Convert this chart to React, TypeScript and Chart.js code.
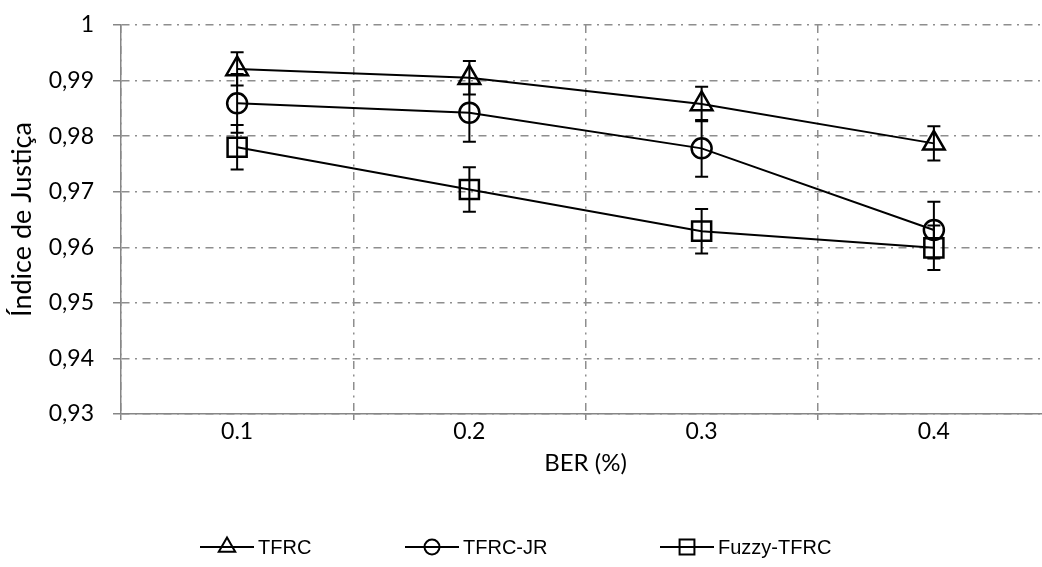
import React, { useEffect, useRef } from 'react';
import { Chart, registerables } from 'chart.js';

Chart.register(...registerables);

const categories = ['0.1', '0.2', '0.3', '0.4'];
const seriesNames = ['TFRC', 'TFRC-JR', 'Fuzzy-TFRC'];
const tfrcValues = [0.9921, 0.9905, 0.9858, 0.9787];
const tfrcErrors = [0.003, 0.003, 0.0031, 0.0031];
const tfrcJrValues = [0.9859, 0.9842, 0.9778, 0.9631];
const tfrcJrErrors = [0.0053, 0.0052, 0.0051, 0.0051];
const fuzzyValues = [0.978, 0.9704, 0.9629, 0.9599];
const fuzzyErrors = [0.004, 0.004, 0.004, 0.004];
const yTickValues = [0.93, 0.94, 0.95, 0.96, 0.97, 0.98, 0.99, 1];
const yTickLabels = ['0,93', '0,94', '0,95', '0,96', '0,97', '0,98', '0,99', '1'];

const AXIS_COLOR = '#868686';
const GRID_COLOR = '#8e8e8e';
const GRID_DASH = [8, 5.5, 2, 5.5];
const LABEL_FONT = 'Lato';

function drawMarker(ctx: CanvasRenderingContext2D, style: string, x: number, y: number, r: number) {
  ctx.beginPath();
  if (style === 'triangle') {
    ctx.moveTo(x, y - r);
    ctx.lineTo(x + r * 0.866, y + r * 0.5);
    ctx.lineTo(x - r * 0.866, y + r * 0.5);
    ctx.closePath();
  } else if (style === 'circle') {
    ctx.arc(x, y, r, 0, Math.PI * 2);
  } else {
    const s = r * Math.SQRT1_2;
    ctx.rect(x - s, y - s, 2 * s, 2 * s);
  }
  ctx.stroke();
}

const errorBarPlugin = {
  id: 'errorBars',
  afterDatasetsDraw(chart: any, _args: any, opts: any) {
    const ctx = chart.ctx as CanvasRenderingContext2D;
    const yScale = chart.scales.y;
    ctx.save();
    ctx.strokeStyle = opts.color;
    ctx.lineWidth = opts.lineWidth;
    chart.data.datasets.forEach((ds: any, di: number) => {
      const meta = chart.getDatasetMeta(di);
      meta.data.forEach((pt: any, i: number) => {
        const v = ds.data[i];
        const e = ds.errors[i];
        const yt = yScale.getPixelForValue(v + e);
        const yb = yScale.getPixelForValue(v - e);
        const x = pt.x;
        const w = opts.capHalfWidth;
        ctx.beginPath();
        ctx.moveTo(x, yt);
        ctx.lineTo(x, yb);
        ctx.moveTo(x - w, yt);
        ctx.lineTo(x + w, yt);
        ctx.moveTo(x - w, yb);
        ctx.lineTo(x + w, yb);
        ctx.stroke();
      });
    });
    ctx.restore();
  },
};

const customLegendPlugin = {
  id: 'customLegend',
  afterDraw(chart: any, _args: any, opts: any) {
    const ctx = chart.ctx as CanvasRenderingContext2D;
    ctx.save();
    ctx.font = opts.font;
    ctx.textBaseline = 'middle';
    ctx.textAlign = 'left';
    ctx.fillStyle = '#000';
    ctx.strokeStyle = '#000';
    chart.data.datasets.forEach((ds: any, di: number) => {
      const x0 = opts.starts[di];
      const y = opts.y;
      ctx.lineWidth = 2;
      ctx.beginPath();
      ctx.moveTo(x0, y);
      ctx.lineTo(x0 + opts.lineLength, y);
      ctx.stroke();
      ctx.lineWidth = 2;
      drawMarker(ctx, ds.pointStyle, x0 + opts.lineLength / 2, y, opts.markerRadius[ds.pointStyle]);
      ctx.fillText(ds.label, x0 + opts.lineLength + 4, y + 1);
    });
    ctx.restore();
  },
};

export default function App() {
  const canvasRef = useRef<HTMLCanvasElement | null>(null);

  useEffect(() => {
    if (!canvasRef.current) return;
    const common = {
      borderColor: '#000',
      borderWidth: 2,
      pointBorderColor: '#000',
      pointBackgroundColor: 'rgba(0,0,0,0)',
      pointBorderWidth: 2.5,
      fill: false,
      tension: 0,
    };
    const chart = new Chart(canvasRef.current, {
      type: 'line',
      data: {
        labels: categories,
        datasets: [
          { ...common, label: seriesNames[0], data: tfrcValues, errors: tfrcErrors, pointStyle: 'triangle', pointRadius: 12.5 } as any,
          { ...common, label: seriesNames[1], data: tfrcJrValues, errors: tfrcJrErrors, pointStyle: 'circle', pointRadius: 10 } as any,
          { ...common, label: seriesNames[2], data: fuzzyValues, errors: fuzzyErrors, pointStyle: 'rect', pointRadius: 13.5 } as any,
        ],
      },
      plugins: [errorBarPlugin, customLegendPlugin],
      options: {
        animation: false,
        responsive: false,
        maintainAspectRatio: false,
        layout: { padding: { top: 25, left: 0, right: 9, bottom: 89 } },
        plugins: {
          legend: { display: false },
          tooltip: { enabled: false },
          errorBars: { color: '#000', lineWidth: 2, capHalfWidth: 6.5 },
          customLegend: {
            y: 547,
            starts: [200, 405, 660],
            lineLength: 54,
            font: '20px "Liberation Sans", Arial, sans-serif',
            markerRadius: { triangle: 9.5, circle: 7.5, rect: 10.5 },
          },
        } as any,
        scales: {
          x: {
            type: 'category',
            offset: true,
            grid: {
              offset: true,
              color: GRID_COLOR,
              lineWidth: 1.5,
              drawTicks: true,
              tickLength: 6,
              tickColor: AXIS_COLOR,
              tickWidth: 1.5,
            },
            border: { display: true, color: AXIS_COLOR, width: 1.5, dash: GRID_DASH },
            ticks: {
              color: '#000',
              padding: -2,
              font: { family: LABEL_FONT, size: 23 },
            },
            title: {
              display: true,
              text: 'BER (%)',
              color: '#000',
              padding: 0,
              font: { family: LABEL_FONT, size: 24 },
            },
            afterFit: (s: any) => {
              s.height = 64;
            },
          } as any,
          y: {
            min: 0.93,
            max: 1,
            afterBuildTicks: (s: any) => {
              s.ticks = yTickValues.map((v) => ({ value: v }));
            },
            grid: {
              color: GRID_COLOR,
              lineWidth: 1.5,
              drawTicks: true,
              tickLength: 8,
              tickColor: AXIS_COLOR,
              tickWidth: 1.5,
            },
            border: { display: true, color: AXIS_COLOR, width: 1.5, dash: GRID_DASH },
            ticks: {
              color: '#000',
              padding: 19,
              font: { family: LABEL_FONT, size: 23 },
              callback: (_v: any, i: number) => yTickLabels[i],
            },
            title: {
              display: true,
              text: 'Índice de Justiça',
              color: '#000',
              padding: { top: 6, bottom: 6 },
              font: { family: LABEL_FONT, size: 27 },
            },
            afterFit: (s: any) => {
              s.width = 121;
              s.paddingTop = 0;
              s.paddingBottom = 0;
            },
          } as any,
        },
      },
    });
    return () => chart.destroy();
  }, []);

  return (
    <div style={{ position: 'absolute', left: 0, top: 0, width: 1042, height: 567, overflow: 'hidden', background: '#fff' }}>
      <canvas ref={canvasRef} width={1066} height={567} style={{ display: 'block', width: 1066, height: 567 }} />
    </div>
  );
}
